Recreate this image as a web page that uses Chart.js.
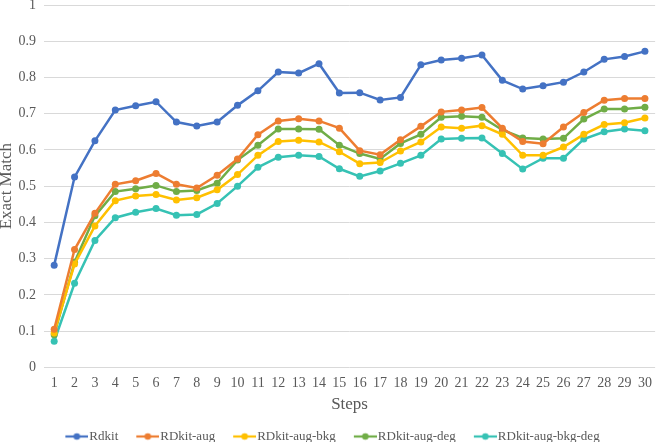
<!DOCTYPE html>
<html>
<head>
<meta charset="utf-8">
<script src="https://cdn.jsdelivr.net/npm/chart.js@4"></script>
<style>
  html, body { margin: 0; padding: 0; background: #fff; }
  #wrap { width: 660px; height: 442px; }
</style>
</head>
<body>
<div id="wrap"><canvas id="myChart"></canvas></div>
<script>
// DATOS
const steps = ['1','2','3','4','5','6','7','8','9','10','11','12','13','14','15','16','17','18','19','20','21','22','23','24','25','26','27','28','29','30'];

const rdkit = [0.282, 0.525, 0.625, 0.710, 0.722, 0.733, 0.677, 0.666, 0.677, 0.723, 0.763, 0.815, 0.812, 0.838, 0.757, 0.758, 0.738, 0.745, 0.835, 0.848, 0.853, 0.862, 0.792, 0.768, 0.777, 0.787, 0.815, 0.850, 0.858, 0.872];
const rdkitAug = [0.105, 0.325, 0.425, 0.505, 0.515, 0.535, 0.505, 0.495, 0.530, 0.575, 0.642, 0.680, 0.686, 0.680, 0.660, 0.598, 0.587, 0.628, 0.665, 0.705, 0.710, 0.717, 0.660, 0.623, 0.617, 0.663, 0.703, 0.737, 0.742, 0.742];
const rdkitAugBkg = [0.095, 0.285, 0.390, 0.460, 0.473, 0.477, 0.462, 0.468, 0.490, 0.532, 0.585, 0.623, 0.627, 0.622, 0.595, 0.562, 0.565, 0.597, 0.622, 0.663, 0.660, 0.667, 0.643, 0.585, 0.585, 0.608, 0.643, 0.670, 0.675, 0.688];
const rdkitAugDeg = [0.090, 0.290, 0.418, 0.485, 0.493, 0.502, 0.485, 0.488, 0.508, 0.572, 0.613, 0.658, 0.658, 0.657, 0.613, 0.590, 0.575, 0.618, 0.643, 0.690, 0.693, 0.690, 0.655, 0.633, 0.630, 0.632, 0.685, 0.713, 0.713, 0.718];
const rdkitAugBkgDeg = [0.072, 0.232, 0.350, 0.413, 0.428, 0.438, 0.420, 0.422, 0.452, 0.500, 0.552, 0.580, 0.585, 0.582, 0.548, 0.527, 0.542, 0.563, 0.585, 0.630, 0.632, 0.633, 0.590, 0.547, 0.577, 0.577, 0.630, 0.650, 0.658, 0.653];

const nombres = ['Rdkit', 'RDkit-aug', 'RDkit-aug-bkg', 'RDkit-aug-deg', 'RDkit-aug-bkg-deg'];
const colores = ['#4472C4', '#ED7D31', '#FFC000', '#70AD47', '#36C2B4'];
const series = [rdkit, rdkitAug, rdkitAugBkg, rdkitAugDeg, rdkitAugBkgDeg];

const fuente = "'Liberation Serif', 'Times New Roman', serif";
const gris = '#595959';

// marcador de leyenda: linea con punto (a la derecha de la imagen, pegado al texto)
const anchoCaja = 28;
const marcador = (color) => {
    const c = document.createElement('canvas');
    c.width = anchoCaja + 11; c.height = 10;
    const g = c.getContext('2d');
    const x0 = c.width - 23;
    g.strokeStyle = color;
    g.lineWidth = 2.2;
    g.beginPath(); g.moveTo(x0, 5); g.lineTo(c.width, 5); g.stroke();
    g.fillStyle = color;
    g.beginPath(); g.arc(x0 + 11.5, 5, 3.3, 0, Math.PI * 2); g.fill();
    return c;
}

const datasets = series.map((d, i) => ({
    label: nombres[i],
    data: d,
    borderColor: colores[i],
    backgroundColor: colores[i],
    borderWidth: 2.5,
    pointRadius: 3.5,
    pointHoverRadius: 3.5,
    pointBorderWidth: 0,
    pointStyle: 'circle',
    tension: 0
}));

// GRAFICA
const ctx = document.getElementById('myChart');
const myChart = new Chart(ctx, {
    type: 'line',
    data: { labels: steps, datasets },
    options: {
        responsive: true,
        maintainAspectRatio: false,
        animation: false,
        layout: { padding: { left: -1.5, right: 4, top: 5, bottom: -11 } },
        scales: {
            x: {
                offset: true,
                grid: { display: false, drawTicks: false },
                border: { display: false },
                ticks: { color: gris, font: { family: fuente, size: 14 }, autoSkip: false, maxRotation: 0, padding: 8 },
                title: { display: true, text: 'Steps', color: gris, font: { family: fuente, size: 17 }, padding: { top: -6, bottom: 8 } }
            },
            y: {
                min: 0,
                max: 1,
                afterFit: (scale) => { scale.paddingTop = 0; scale.paddingBottom = 0; scale.width = 45.5; },
                grid: { color: '#D9D9D9', lineWidth: 1, drawTicks: false },
                border: { display: false },
                ticks: {
                    stepSize: 0.1,
                    color: gris,
                    font: { family: fuente, size: 14 },
                    padding: 8,
                    callback: (v) => String(Number(v.toFixed(1)))
                },
                title: { display: true, text: 'Exact Match', color: gris, font: { family: fuente, size: 17, lineHeight: 1 }, padding: 0 }
            }
        },
        plugins: {
            tooltip: { enabled: false },
            legend: {
                position: 'bottom',
                labels: {
                    color: gris,
                    font: { family: fuente, size: 13 },
                    usePointStyle: true,
                    pointStyleWidth: anchoCaja,
                    padding: 7.5,
                    generateLabels: (chart) => chart.data.datasets.map((ds, i) => ({
                        text: ds.label,
                        pointStyle: marcador(ds.borderColor),
                        fontColor: gris,
                        strokeStyle: ds.borderColor,
                        fillStyle: ds.borderColor,
                        lineWidth: 0,
                        datasetIndex: i
                    }))
                }
            }
        }
    }
});
</script>
</body>
</html>
